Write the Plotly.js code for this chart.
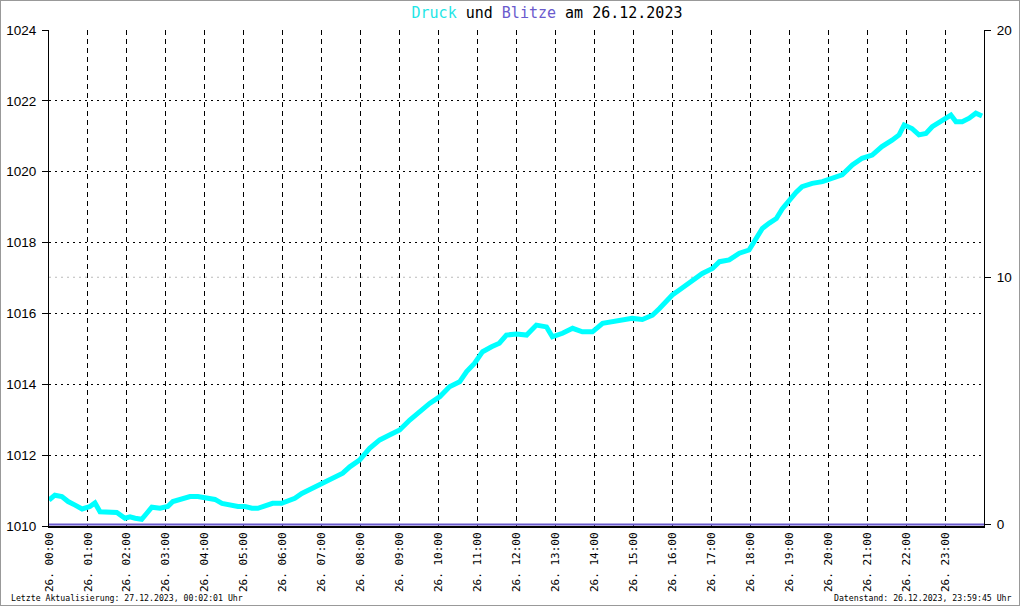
<!DOCTYPE html>
<html>
<head>
<meta charset="utf-8">
<script src="https://cdn.plot.ly/plotly-3.0.1.min.js"></script>
<style>
  html, body { margin:0; padding:0; background:#fff; }
  #wrap { position:relative; width:1020px; height:606px; }
  #chart { width:1020px; height:606px; }
  #frame { position:absolute; left:0; top:0; width:1020px; height:606px; box-sizing:border-box; border:1px solid #999; pointer-events:none; }
</style>
</head>
<body>
<div id="wrap"><div id="chart"></div><div id="frame"></div></div>
<script>
// Pressure (hPa) over the day, hours since 26.12.2023 00:00
const pressureHours = [0.00,0.15,0.33,0.49,0.67,0.85,1.05,1.18,1.31,1.51,1.74,1.95,2.08,2.21,2.38,2.51,2.64,2.85,3.05,3.18,3.41,3.62,3.82,4.05,4.26,4.44,4.64,4.85,5.03,5.21,5.36,5.54,5.74,5.97,6.13,6.31,6.49,6.64,6.82,7.00,7.15,7.33,7.54,7.72,7.97,8.23,8.49,8.74,9.00,9.26,9.51,9.77,10.03,10.28,10.54,10.72,10.92,11.13,11.36,11.56,11.74,12.00,12.26,12.51,12.77,12.92,13.18,13.44,13.69,13.95,14.21,14.46,14.72,14.97,15.23,15.49,15.67,15.85,16.00,16.18,16.36,16.51,16.77,17.03,17.21,17.46,17.72,17.97,18.15,18.31,18.49,18.67,18.82,19.00,19.18,19.33,19.59,19.85,20.10,20.36,20.62,20.87,21.13,21.38,21.64,21.82,21.95,22.15,22.33,22.51,22.67,22.92,23.15,23.28,23.44,23.62,23.79,23.95];
const pressureHpa = [1010.73,1010.87,1010.83,1010.69,1010.59,1010.48,1010.55,1010.65,1010.40,1010.40,1010.38,1010.22,1010.26,1010.22,1010.19,1010.36,1010.53,1010.50,1010.55,1010.69,1010.78,1010.83,1010.83,1010.78,1010.75,1010.64,1010.59,1010.55,1010.55,1010.50,1010.50,1010.55,1010.64,1010.64,1010.71,1010.78,1010.92,1011.00,1011.11,1011.20,1011.25,1011.35,1011.49,1011.67,1011.86,1012.19,1012.43,1012.57,1012.71,1012.99,1013.23,1013.46,1013.65,1013.93,1014.07,1014.36,1014.59,1014.92,1015.06,1015.16,1015.39,1015.42,1015.39,1015.67,1015.62,1015.34,1015.44,1015.58,1015.48,1015.48,1015.72,1015.77,1015.81,1015.86,1015.83,1015.95,1016.14,1016.33,1016.52,1016.66,1016.80,1016.94,1017.13,1017.27,1017.46,1017.51,1017.70,1017.79,1018.12,1018.40,1018.55,1018.68,1018.95,1019.20,1019.42,1019.58,1019.67,1019.72,1019.83,1019.91,1020.19,1020.38,1020.47,1020.71,1020.89,1021.04,1021.32,1021.22,1021.04,1021.08,1021.27,1021.43,1021.60,1021.41,1021.41,1021.51,1021.65,1021.57];

// Lightning count (Blitze) - none during the day
const blitzeHours = [0, 24];
const blitzeCount = [0, 0];

// Axis ticks
const hourTicks = [0,1,2,3,4,5,6,7,8,9,10,11,12,13,14,15,16,17,18,19,20,21,22,23];
const hourLabels = ["26. 00:00","26. 01:00","26. 02:00","26. 03:00","26. 04:00","26. 05:00","26. 06:00","26. 07:00","26. 08:00","26. 09:00","26. 10:00","26. 11:00","26. 12:00","26. 13:00","26. 14:00","26. 15:00","26. 16:00","26. 17:00","26. 18:00","26. 19:00","26. 20:00","26. 21:00","26. 22:00","26. 23:00"];
const pressureTicks = [1010,1012,1014,1016,1018,1020,1022,1024];
const blitzeTicks = [0,10,20];

const titleText = '<span style="color:#1ee6e6">Druck</span> und <span style="color:#6a5acd">Blitze</span> am 26.12.2023';
const footerLeft = 'Letzte Aktualisierung: 27.12.2023, 00:02:01 Uhr';
const footerRight = 'Datenstand: 26.12.2023, 23:59:45 Uhr';

const mono = '"DejaVu Sans Mono", "Liberation Mono", monospace';
const sans = '"Liberation Sans", "DejaVu Sans", sans-serif';

const traces = [
  {
    x: blitzeHours, y: blitzeCount, yaxis: 'y2', type: 'scatter', mode: 'lines',
    line: {color: '#6a5acd', width: 2}, hoverinfo: 'skip'
  },
  {
    x: pressureHours, y: pressureHpa, type: 'scatter', mode: 'lines',
    line: {color: '#00ffff', width: 5}, hoverinfo: 'skip'
  }
];

const layout = {
  width: 1020, height: 606,
  margin: {l: 49, r: 36, t: 30, b: 80},
  paper_bgcolor: '#ffffff', plot_bgcolor: '#ffffff',
  showlegend: false,
  title: {
    text: titleText, font: {family: mono, size: 15, color: '#000'},
    xref: 'container', x: 547/1020, xanchor: 'center',
    yref: 'container', y: 1 - 13/606, yanchor: 'middle'
  },
  xaxis: {
    range: [0, 24], tickvals: hourTicks, ticktext: hourLabels, tickangle: -90,
    tickfont: {family: mono, size: 11, color: '#000'},
    ticks: '', showgrid: true, gridcolor: '#000', gridwidth: 1, griddash: '5px,4px',
    showline: true, linecolor: '#000', linewidth: 2, zeroline: false, fixedrange: true
  },
  yaxis: {
    range: [1010, 1024], tickvals: pressureTicks,
    tickfont: {family: sans, size: 13.5, color: '#000'},
    ticks: 'outside', ticklen: 6, tickcolor: '#000', tickwidth: 1, ticklabelstandoff: 3,
    showgrid: true, gridcolor: '#000', gridwidth: 1, griddash: '2px,4px',
    showline: true, linecolor: '#000', linewidth: 1, zeroline: false, fixedrange: true
  },
  yaxis2: {
    overlaying: 'y', side: 'right', range: [-0.06, 20], tickvals: blitzeTicks,
    tickfont: {family: sans, size: 13.5, color: '#000'},
    ticks: 'outside', ticklen: 6, tickcolor: '#000', tickwidth: 1, ticklabelstandoff: 3,
    showgrid: false, showline: true, linecolor: '#000', linewidth: 1, zeroline: false, fixedrange: true
  },
  shapes: [
    {type: 'line', xref: 'paper', x0: 0, x1: 1, yref: 'y2', y0: 10, y1: 10,
     line: {color: '#bbbbbb', width: 1, dash: '2px,4px'}, layer: 'below'}
  ],
  annotations: [
    {text: footerLeft, xref: 'paper', x: (9-49)/935, xanchor: 'left', yref: 'paper', y: (526-598)/496, yanchor: 'middle',
     showarrow: false, font: {family: mono, size: 8.2, color: '#000'}},
    {text: footerRight, xref: 'paper', x: (1014-49)/935, xanchor: 'right', yref: 'paper', y: (526-598)/496, yanchor: 'middle',
     showarrow: false, font: {family: mono, size: 8.2, color: '#000'}}
  ]
};

Plotly.newPlot('chart', traces, layout, {staticPlot: true, displayModeBar: false});
</script>
</body>
</html>
